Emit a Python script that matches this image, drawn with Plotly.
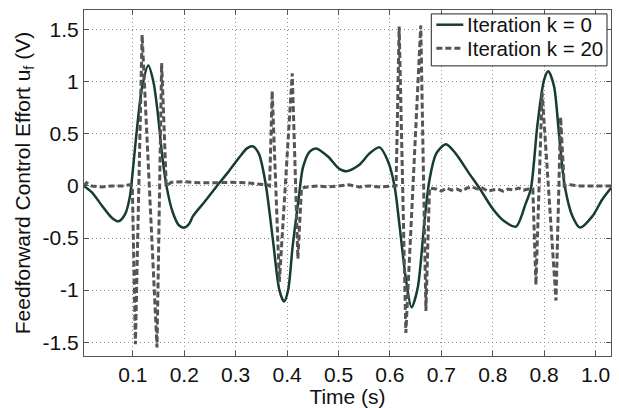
import plotly.graph_objects as go

# Feedforward control effort for iteration k = 0 (smooth curve, control points)
t_k0 = [0.005, 0.02, 0.04, 0.058, 0.072, 0.085, 0.094, 0.100, 0.107, 0.118,
        0.130, 0.140, 0.148, 0.156, 0.165, 0.178, 0.190, 0.200, 0.210, 0.217,
        0.240, 0.262, 0.285, 0.308, 0.322, 0.333, 0.345, 0.358, 0.372, 0.385,
        0.394, 0.402, 0.411, 0.423, 0.431, 0.444, 0.456, 0.480, 0.500, 0.515,
        0.540, 0.560, 0.580, 0.596, 0.609, 0.618, 0.631, 0.642, 0.654, 0.667,
        0.677, 0.690, 0.709, 0.728, 0.754, 0.774, 0.800, 0.820, 0.845, 0.864,
        0.874, 0.887, 0.900, 0.908, 0.919, 0.929, 0.940, 0.955, 0.970, 0.994,
        1.013, 1.030]
u_k0 = [0.00, -0.06, -0.19, -0.30, -0.34, -0.27, -0.11, 0.15, 0.50, 0.95,
        1.155, 1.00, 0.72, 0.34, 0.01, -0.26, -0.38, -0.40, -0.36, -0.29,
        -0.15, -0.01, 0.13, 0.28, 0.36, 0.38, 0.31, 0.03, -0.50, -1.00,
        -1.11, -1.00, -0.57, -0.10, 0.18, 0.33, 0.36, 0.28, 0.17, 0.14,
        0.20, 0.31, 0.37, 0.24, 0.00, -0.35, -0.89, -1.165, -0.98, -0.35,
        0.06, 0.31, 0.40, 0.31, 0.12, -0.02, -0.22, -0.33, -0.39, -0.17,
        -0.03, 0.59, 1.02, 1.10, 0.96, 0.49, 0.00, -0.29, -0.40, -0.29,
        -0.13, -0.02]

# Feedforward control effort for iteration k = 20 (sampled, spiky)
t_k20 = [0.005, 0.010, 0.020, 0.040, 0.060, 0.080, 0.094, 0.099, 0.105, 0.118,
         0.147, 0.156, 0.165, 0.175, 0.200, 0.230, 0.260, 0.290, 0.320, 0.345,
         0.362, 0.366, 0.371, 0.385, 0.410, 0.421, 0.428, 0.440, 0.460, 0.480,
         0.500, 0.520, 0.540, 0.560, 0.580, 0.600, 0.612, 0.618, 0.631, 0.660,
         0.670, 0.677, 0.690, 0.700, 0.710, 0.720, 0.730, 0.740, 0.750, 0.760,
         0.770, 0.780, 0.790, 0.800, 0.810, 0.820, 0.830, 0.840, 0.850, 0.860,
         0.870, 0.878, 0.884, 0.896, 0.923, 0.932, 0.939, 0.950, 0.970, 1.000,
         1.030]
u_k20 = [0.00, 0.03, 0.00, -0.01, 0.00, 0.00, 0.01, 0.00, -1.52, 1.45,
         -1.55, 1.18, 0.00, 0.035, 0.04, 0.03, 0.03, 0.035, 0.03, 0.02,
         0.01, 0.00, 0.91, -0.92, 1.08, -0.70, -0.02, -0.01, 0.00, -0.01,
         0.00, 0.01, -0.01, 0.00, -0.01, 0.00, 0.00, 1.53, -1.41, 1.54,
         -1.20, -0.02, -0.03, -0.05, -0.02, -0.04, -0.03, -0.05, -0.02, -0.01,
         -0.03, -0.02, -0.05, -0.04, -0.03, -0.05, -0.03, -0.04, -0.02, -0.04,
         -0.03, -0.03, -0.95, 0.90, -1.10, 0.66, 0.00, 0.01, 0.00, 0.00,
         0.00]

x_ticks = [0.1, 0.2, 0.3, 0.4, 0.5, 0.6, 0.7, 0.8, 0.9, 1.0]
x_tick_labels = ["0.1", "0.2", "0.3", "0.4", "0.5", "0.6", "0.7", "0.8", "0.8", "1.0"]
y_ticks = [-1.5, -1.0, -0.5, 0.0, 0.5, 1.0, 1.5]
y_tick_labels = ["-1.5", "-1", "-0.5", "0", "0.5", "1", "1.5"]

series_names = ["Iteration k = 0", "Iteration k = 20"]
series_colors = ["#173d2c", "#555555"]
series_widths = [2.5, 3]
series_dashes = ["solid", "6px,3px"]

FONT = "Liberation Sans, Arial, sans-serif"
TEXT = "#111111"

fig = go.Figure()
fig.add_trace(go.Scatter(
    x=t_k0, y=u_k0, mode="lines", name=series_names[0], showlegend=False,
    line=dict(color=series_colors[0], width=series_widths[0],
              shape="spline", smoothing=0.8),
))
fig.add_trace(go.Scatter(
    x=t_k20, y=u_k20, mode="lines", name=series_names[1], showlegend=False,
    line=dict(color=series_colors[1], width=series_widths[1],
              dash=series_dashes[1]),
))

axis_common = dict(
    showline=True, linecolor="#555555", linewidth=1, mirror="ticks",
    ticks="inside", ticklen=5, tickcolor="#555555",
    showgrid=True, gridcolor="#8a8a8a", gridwidth=1, griddash="1px,3px",
    zeroline=False, tickfont=dict(family=FONT, size=21, color=TEXT),
)

fig.update_xaxes(
    range=[0.005, 1.03], tickvals=x_ticks, ticktext=x_tick_labels,
    title=dict(text="Time (s)", font=dict(family=FONT, size=21, color=TEXT),
               standoff=0),
    **axis_common,
)
fig.update_yaxes(
    range=[-1.632, 1.688], tickvals=y_ticks, ticktext=y_tick_labels,
    title=dict(text="Feedforward Control Effort u<sub>f</sub> (V)",
               font=dict(family=FONT, size=21, color=TEXT), standoff=6),
    **axis_common,
)

# Boxed legend in the upper-right corner of the axes (paper coordinates)
box_x0, box_x1 = 0.659, 0.9924
box_y0, box_y1 = 0.8385, 0.9887
row_y = [0.9575, 0.8895]
swatch_x0, swatch_x1 = 0.6686, 0.7197
label_x = 0.7235

fig.add_shape(type="rect", xref="paper", yref="paper",
              x0=box_x0, x1=box_x1, y0=box_y0, y1=box_y1,
              line=dict(color="#222222", width=1), fillcolor="white", layer="above")
for i in range(2):
    fig.add_shape(type="line", xref="paper", yref="paper",
                  x0=swatch_x0, x1=swatch_x1, y0=row_y[i], y1=row_y[i],
                  line=dict(color=series_colors[i], width=series_widths[i],
                            dash=series_dashes[i]), layer="above")
    fig.add_annotation(xref="paper", yref="paper", x=label_x, y=row_y[i],
                       xanchor="left", yanchor="middle", showarrow=False,
                       text=series_names[i],
                       font=dict(family=FONT, size=20.5, color=TEXT))

fig.update_layout(
    width=619, height=408,
    margin=dict(l=84, r=7, t=10, b=45),
    paper_bgcolor="white", plot_bgcolor="white",
    showlegend=False,
)

fig.write_html("out.html")
